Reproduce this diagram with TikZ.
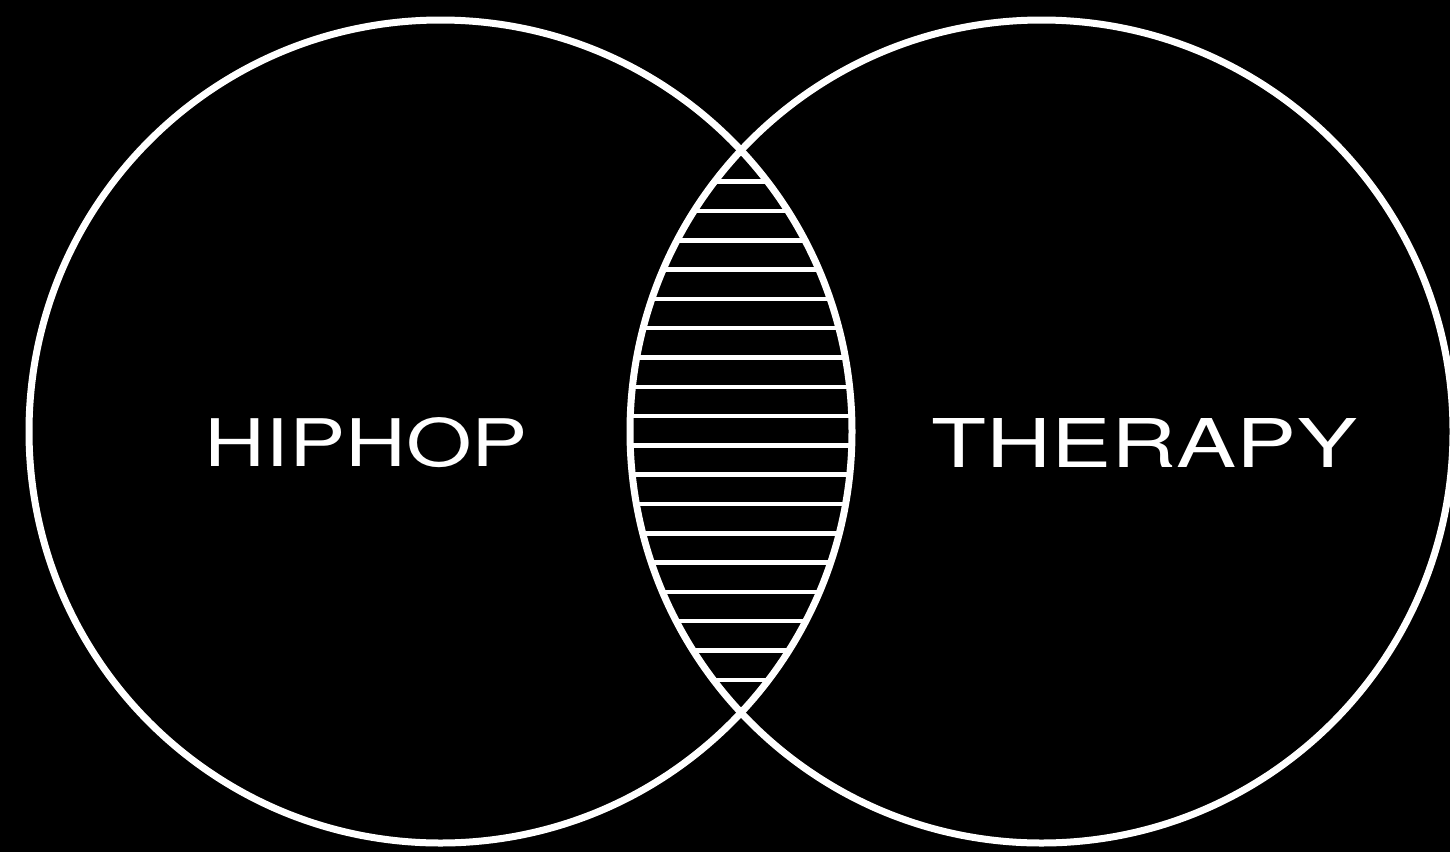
\documentclass[tikz,border=0pt]{standalone}
\usepackage{fontspec}
\newfontfamily\vennfont{TeX Gyre Heros}

\tikzset{
    ring/.style={draw=white, line width=7pt},
    hatchline/.style={draw=white, line width=4.5pt},
    setname/.style={text=white, inner sep=0pt, font=\vennfont}
}

\begin{document}
\begin{tikzpicture}[x=1pt, y=-1pt]

        % ==================== 背景 ====================
        \fill[black] (0,0) rectangle (1450,852);
        \useasboundingbox (0,0) rectangle (1450,852);

        % ==================== 交集: 横线填充 ====================
        \begin{scope}
            \clip (440.5,431.5) circle (411.5pt);
            \clip (1041.5,431.5) circle (411.5pt);
            \foreach \k in {0,...,17}
                \draw[hatchline] (600,181.7+29.3*\k) -- (890,181.7+29.3*\k);
        \end{scope}

        % ==================== 两个圆 ====================
        \draw[ring] (440.5,431.5) circle (411.5pt);
        \draw[ring] (1041.5,431.5) circle (411.5pt);

        % 文字
        \node[setname] (hiphop) at (366.5,442.5) {\resizebox{323pt}{49pt}{HIPHOP}};
        \node[setname] (therapy) at (1144.5,442.5) {\resizebox{425pt}{49pt}{THERAPY}};

\end{tikzpicture}
\end{document}
